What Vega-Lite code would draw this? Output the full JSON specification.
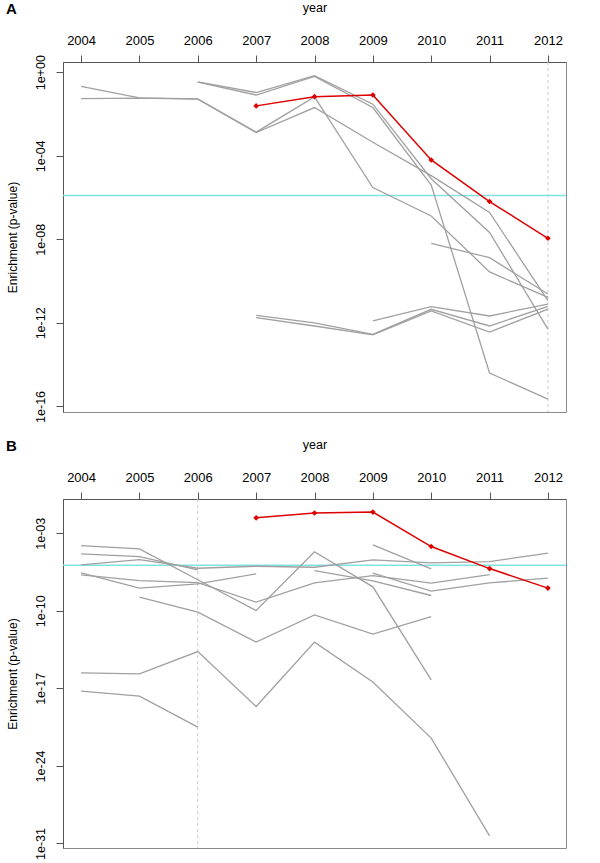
{
  "$schema": "https://vega.github.io/schema/vega-lite/v6.json",
  "padding": {"left": 5, "top": 0, "right": 5, "bottom": 0},
  "spacing": 14,
  "config": {
    "font": "Liberation Sans",
    "view": {"stroke": "#8a8a8a", "strokeWidth": 1},
    "axis": {"grid": false, "labelColor": "black", "titleColor": "black", "tickColor": "#555555", "domainColor": "#555555", "titleFontWeight": "normal", "labelFlush": false, "labelOverlap": false}
  },
  "datasets": {
    "A": [
      {"s": "L1", "year": 2004, "p": 0.209}, {"s": "L1", "year": 2005, "p": 0.0589}, {"s": "L1", "year": 2006, "p": 0.0525}, {"s": "L1", "year": 2007, "p": 0.00135}, {"s": "L1", "year": 2008, "p": 0.0661}, {"s": "L1", "year": 2009, "p": 3.02e-6}, {"s": "L1", "year": 2010, "p": 1.32e-7}, {"s": "L1", "year": 2011, "p": 2.75e-10}, {"s": "L1", "year": 2012, "p": 1.66e-11},
      {"s": "L2", "year": 2004, "p": 0.055}, {"s": "L2", "year": 2005, "p": 0.0575}, {"s": "L2", "year": 2006, "p": 0.0513}, {"s": "L2", "year": 2007, "p": 0.00129}, {"s": "L2", "year": 2008, "p": 0.0204}, {"s": "L2", "year": 2009, "p": 4.47e-4}, {"s": "L2", "year": 2010, "p": 1.12e-5}, {"s": "L2", "year": 2011, "p": 1.95e-7}, {"s": "L2", "year": 2012, "p": 1.15e-11},
      {"s": "c", "year": 2006, "p": 0.347}, {"s": "c", "year": 2007, "p": 0.107}, {"s": "c", "year": 2008, "p": 0.692}, {"s": "c", "year": 2009, "p": 0.0295}, {"s": "c", "year": 2010, "p": 7.94e-6}, {"s": "c", "year": 2011, "p": 2.14e-8}, {"s": "c", "year": 2012, "p": 5.01e-13},
      {"s": "d", "year": 2006, "p": 0.339}, {"s": "d", "year": 2007, "p": 0.0813}, {"s": "d", "year": 2008, "p": 0.631}, {"s": "d", "year": 2009, "p": 0.0204}, {"s": "d", "year": 2010, "p": 3.98e-6}, {"s": "d", "year": 2011, "p": 3.98e-15}, {"s": "d", "year": 2012, "p": 2.24e-16},
      {"s": "n", "year": 2010, "p": 6.46e-9}, {"s": "n", "year": 2011, "p": 1.32e-9}, {"s": "n", "year": 2012, "p": 2.4e-11},
      {"s": "f", "year": 2007, "p": 2.29e-12}, {"s": "f", "year": 2008, "p": 1.0e-12}, {"s": "f", "year": 2009, "p": 2.82e-13}, {"s": "f", "year": 2010, "p": 4.47e-12}, {"s": "f", "year": 2011, "p": 7.08e-13}, {"s": "f", "year": 2012, "p": 6.17e-12},
      {"s": "g", "year": 2007, "p": 1.78e-12}, {"s": "g", "year": 2008, "p": 7.08e-13}, {"s": "g", "year": 2009, "p": 2.69e-13}, {"s": "g", "year": 2010, "p": 3.72e-12}, {"s": "g", "year": 2011, "p": 3.63e-13}, {"s": "g", "year": 2012, "p": 4.57e-12},
      {"s": "h", "year": 2009, "p": 1.23e-12}, {"s": "h", "year": 2010, "p": 6.03e-12}, {"s": "h", "year": 2011, "p": 2.14e-12}, {"s": "h", "year": 2012, "p": 7.94e-12}
    ],
    "B": [
      {"s": "B1", "year": 2004, "p": 7.59e-5}, {"s": "B1", "year": 2005, "p": 3.8e-5}, {"s": "B1", "year": 2006, "p": 6.31e-8}, {"s": "B1", "year": 2007, "p": 1.05e-10}, {"s": "B1", "year": 2008, "p": 2.14e-5}, {"s": "B1", "year": 2009, "p": 1.45e-8}, {"s": "B1", "year": 2010, "p": 5.89e-17},
      {"s": "B2", "year": 2004, "p": 1.35e-5}, {"s": "B2", "year": 2005, "p": 7.76e-6}, {"s": "B2", "year": 2006, "p": 4.9e-7},
      {"s": "B3", "year": 2004, "p": 1.38e-6}, {"s": "B3", "year": 2005, "p": 4.17e-6}, {"s": "B3", "year": 2006, "p": 6.92e-7}, {"s": "B3", "year": 2007, "p": 1.05e-6}, {"s": "B3", "year": 2008, "p": 8.51e-7}, {"s": "B3", "year": 2009, "p": 3.89e-6}, {"s": "B3", "year": 2010, "p": 2.09e-6}, {"s": "B3", "year": 2011, "p": 2.75e-6}, {"s": "B3", "year": 2012, "p": 1.58e-5},
      {"s": "B4", "year": 2004, "p": 2.63e-7}, {"s": "B4", "year": 2005, "p": 1.1e-8}, {"s": "B4", "year": 2006, "p": 2.69e-8}, {"s": "B4", "year": 2007, "p": 2.14e-7},
      {"s": "B5", "year": 2004, "p": 1.74e-7}, {"s": "B5", "year": 2005, "p": 5.37e-8}, {"s": "B5", "year": 2006, "p": 3.55e-8}, {"s": "B5", "year": 2007, "p": 6.03e-10}, {"s": "B5", "year": 2008, "p": 3.31e-8}, {"s": "B5", "year": 2009, "p": 1.51e-7}, {"s": "B5", "year": 2010, "p": 3.09e-8}, {"s": "B5", "year": 2011, "p": 1.86e-7},
      {"s": "B6", "year": 2005, "p": 1.7e-9}, {"s": "B6", "year": 2006, "p": 7.41e-11}, {"s": "B6", "year": 2007, "p": 1.48e-13}, {"s": "B6", "year": 2008, "p": 4.27e-11}, {"s": "B6", "year": 2009, "p": 7.76e-13}, {"s": "B6", "year": 2010, "p": 3.02e-11},
      {"s": "B7", "year": 2008, "p": 4.27e-7}, {"s": "B7", "year": 2009, "p": 5.01e-8}, {"s": "B7", "year": 2010, "p": 2.4e-9},
      {"s": "B8", "year": 2009, "p": 8.91e-5}, {"s": "B8", "year": 2010, "p": 6.03e-7},
      {"s": "B9", "year": 2004, "p": 2.51e-16}, {"s": "B9", "year": 2005, "p": 2.04e-16}, {"s": "B9", "year": 2006, "p": 2.09e-14}, {"s": "B9", "year": 2007, "p": 2.29e-19}, {"s": "B9", "year": 2008, "p": 1.48e-13}, {"s": "B9", "year": 2009, "p": 3.72e-17}, {"s": "B9", "year": 2010, "p": 3.24e-22}, {"s": "B9", "year": 2011, "p": 4.79e-31},
      {"s": "B10", "year": 2004, "p": 5.62e-18}, {"s": "B10", "year": 2005, "p": 2.0e-18}, {"s": "B10", "year": 2006, "p": 3.16e-21},
      {"s": "B11", "year": 2009, "p": 2.51e-7}, {"s": "B11", "year": 2010, "p": 5.89e-9}, {"s": "B11", "year": 2011, "p": 3.31e-8}, {"s": "B11", "year": 2012, "p": 8.71e-8}
    ],
    "red": [
      {"year": 2007, "p": 0.0245}, {"year": 2008, "p": 0.0676}, {"year": 2009, "p": 0.0813}, {"year": 2010, "p": 6.31e-5}, {"year": 2011, "p": 6.46e-7}, {"year": 2012, "p": 1.12e-8}
    ],
    "refA": [{"year": 2012, "p": 1.26e-6}],
    "refB": [{"year": 2006, "p": 1.26e-6}]
  },
  "vconcat": [
    {
      "width": 503, "height": 350,
      "title": {"text": "A", "anchor": "start", "frame": "bounds", "fontSize": 15, "fontWeight": "bold", "font": "Liberation Sans", "offset": -16},
      "layer": [
        {"data": {"name": "refA"}, "mark": {"type": "rule", "color": "#c8c8c8", "strokeDash": [3, 3], "strokeWidth": 1},
         "encoding": {"x": {"field": "year", "type": "quantitative", "title": "year", "scale": {"domain": [2003.69, 2012.31], "nice": false, "zero": false}}}},
        {"data": {"name": "refA"}, "mark": {"type": "rule", "color": "#7fe3df", "strokeWidth": 1.5},
         "encoding": {"y": {"field": "p", "type": "quantitative", "title": "Enrichment (p-value)", "scale": {"type": "log", "domain": [5.4e-17, 3.09], "nice": false}}}},
        {"data": {"name": "A"}, "mark": {"type": "line", "color": "#a0a0a0", "strokeWidth": 1.3},
         "encoding": {
           "x": {"field": "year", "type": "quantitative", "title": "year", "scale": {"domain": [2003.69, 2012.31], "nice": false, "zero": false},
                 "axis": {"orient": "top", "values": [2004, 2005, 2006, 2007, 2008, 2009, 2010, 2011, 2012], "format": "d", "tickSize": 7, "labelPadding": 8, "titlePadding": 20, "labelFontSize": 13, "titleFontSize": 12.5}},
           "y": {"field": "p", "type": "quantitative", "title": "Enrichment (p-value)", "scale": {"type": "log", "domain": [5.4e-17, 3.09], "nice": false},
                 "axis": {"values": [1, 0.0001, 1e-8, 1e-12, 1e-16], "labelExpr": "datum.value >= 1 ? '1e+00' : '1e-' + (round(-log(datum.value)/LN10) < 10 ? '0' : '') + round(-log(datum.value)/LN10)", "labelAngle": 270, "labelAlign": "center", "labelBaseline": "bottom", "tickSize": 7, "labelPadding": 9, "titlePadding": 15, "labelFontSize": 12.5, "titleFontSize": 12}},
           "detail": {"field": "s"},
           "order": {"field": "year"}
         }},
        {"data": {"name": "red"}, "mark": {"type": "line", "color": "#dd0000", "strokeWidth": 1.5},
         "encoding": {
           "x": {"field": "year", "type": "quantitative", "title": "year", "scale": {"domain": [2003.69, 2012.31], "nice": false, "zero": false}},
           "y": {"field": "p", "type": "quantitative", "title": "Enrichment (p-value)", "scale": {"type": "log", "domain": [5.4e-17, 3.09], "nice": false}}
         }},
        {"data": {"name": "red"}, "mark": {"type": "point", "shape": "diamond", "filled": true, "color": "#dd0000", "size": 32, "opacity": 1},
         "encoding": {
           "x": {"field": "year", "type": "quantitative", "title": "year", "scale": {"domain": [2003.69, 2012.31], "nice": false, "zero": false}},
           "y": {"field": "p", "type": "quantitative", "title": "Enrichment (p-value)", "scale": {"type": "log", "domain": [5.4e-17, 3.09], "nice": false}}
         }}
      ]
    },
    {
      "width": 503, "height": 349,
      "title": {"text": "B", "anchor": "start", "frame": "bounds", "fontSize": 15, "fontWeight": "bold", "font": "Liberation Sans", "offset": -16},
      "layer": [
        {"data": {"name": "refB"}, "mark": {"type": "rule", "color": "#c8c8c8", "strokeDash": [3, 3], "strokeWidth": 1},
         "encoding": {"x": {"field": "year", "type": "quantitative", "title": "year", "scale": {"domain": [2003.69, 2012.31], "nice": false, "zero": false}}}},
        {"data": {"name": "refB"}, "mark": {"type": "rule", "color": "#7fe3df", "strokeWidth": 1.5},
         "encoding": {"y": {"field": "p", "type": "quantitative", "title": "Enrichment (p-value)", "scale": {"type": "log", "domain": [3.9e-32, 1.23], "nice": false}}}},
        {"data": {"name": "B"}, "mark": {"type": "line", "color": "#a0a0a0", "strokeWidth": 1.3},
         "encoding": {
           "x": {"field": "year", "type": "quantitative", "title": "year", "scale": {"domain": [2003.69, 2012.31], "nice": false, "zero": false},
                 "axis": {"orient": "top", "values": [2004, 2005, 2006, 2007, 2008, 2009, 2010, 2011, 2012], "format": "d", "tickSize": 7, "labelPadding": 8, "titlePadding": 20, "labelFontSize": 13, "titleFontSize": 12.5}},
           "y": {"field": "p", "type": "quantitative", "title": "Enrichment (p-value)", "scale": {"type": "log", "domain": [3.9e-32, 1.23], "nice": false},
                 "axis": {"values": [0.001, 1e-10, 1e-17, 1e-24, 1e-31], "labelExpr": "datum.value >= 1 ? '1e+00' : '1e-' + (round(-log(datum.value)/LN10) < 10 ? '0' : '') + round(-log(datum.value)/LN10)", "labelAngle": 270, "labelAlign": "center", "labelBaseline": "bottom", "tickSize": 7, "labelPadding": 9, "titlePadding": 15, "labelFontSize": 12.5, "titleFontSize": 12}},
           "detail": {"field": "s"},
           "order": {"field": "year"}
         }},
        {"data": {"name": "red"}, "mark": {"type": "line", "color": "#dd0000", "strokeWidth": 1.5},
         "encoding": {
           "x": {"field": "year", "type": "quantitative", "title": "year", "scale": {"domain": [2003.69, 2012.31], "nice": false, "zero": false}},
           "y": {"field": "p", "type": "quantitative", "title": "Enrichment (p-value)", "scale": {"type": "log", "domain": [3.9e-32, 1.23], "nice": false}}
         }},
        {"data": {"name": "red"}, "mark": {"type": "point", "shape": "diamond", "filled": true, "color": "#dd0000", "size": 32, "opacity": 1},
         "encoding": {
           "x": {"field": "year", "type": "quantitative", "title": "year", "scale": {"domain": [2003.69, 2012.31], "nice": false, "zero": false}},
           "y": {"field": "p", "type": "quantitative", "title": "Enrichment (p-value)", "scale": {"type": "log", "domain": [3.9e-32, 1.23], "nice": false}}
         }}
      ]
    }
  ]
}
